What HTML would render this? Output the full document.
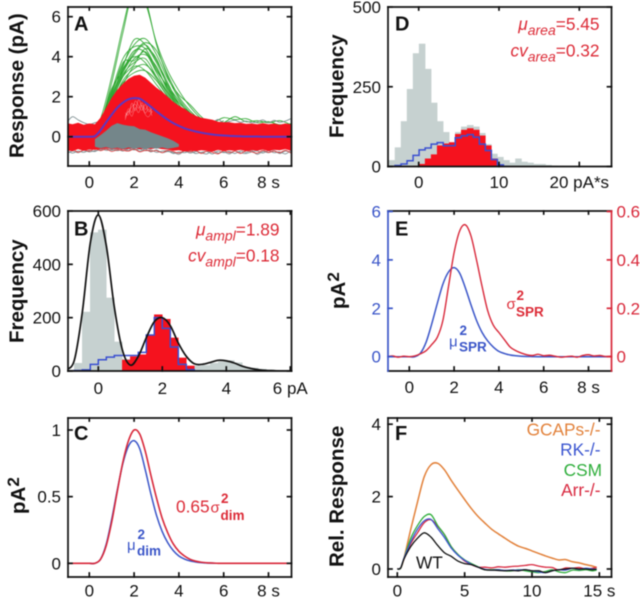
<!DOCTYPE html>
<html lang="en">
<head>
<meta charset="utf-8">
<title>Single-photon response panels</title>
<style>
html,body{margin:0;padding:0;background:#fff;width:640px;height:598px;overflow:hidden}
svg{display:block;filter:blur(0.5px);font-family:"Liberation Sans",sans-serif}
.tick{font-size:17px;fill:#111}
.title{font-size:20.5px;font-weight:bold;fill:#111}
.letter{font-size:20px;font-weight:bold;fill:#111}
.red{fill:#dc2b37}.blue{fill:#3a55c8}
.ann{font-size:17.3px}
.sub{font-size:14px;font-style:italic}
.bs{font-size:13.5px;font-weight:bold}
</style>
</head>
<body>
<svg id="figure" width="640" height="598" viewBox="0 0 640 598" xmlns="http://www.w3.org/2000/svg">
  <defs>
    <clipPath id="clipA"><rect x="68" y="7" width="223.5" height="159"/></clipPath>
    <clipPath id="clipB"><rect x="68" y="211" width="223.5" height="160"/></clipPath>
    <clipPath id="clipC"><rect x="68" y="418" width="223.5" height="159"/></clipPath>
    <clipPath id="clipD"><rect x="388" y="7" width="223.5" height="159.5"/></clipPath>
    <clipPath id="clipE"><rect x="388" y="211" width="223.5" height="160"/></clipPath>
    <clipPath id="clipF"><rect x="388" y="418" width="223.5" height="159"/></clipPath>
  </defs>
  <g id="marks"></g>
  <g id="axes"></g>

  <text class="title" transform="translate(23.5,158) rotate(-90)">Response (pA)</text>
  <text class="title" transform="translate(23.5,343) rotate(-90)">Frequency</text>
  <text class="title" transform="translate(25,514) rotate(-90)">pA<tspan font-size="17" dy="-6">2</tspan></text>
  <text class="title" transform="translate(343.5,138) rotate(-90)">Frequency</text>
  <text class="title" transform="translate(345,309) rotate(-90)">pA<tspan font-size="17" dy="-6">2</tspan></text>
  <text class="title" transform="translate(343.5,567) rotate(-90)">Rel. Response</text>

  <text class="letter" x="74" y="30.5">A</text>
  <text class="letter" x="74" y="235.5">B</text>
  <text class="letter" x="74" y="440">C</text>
  <text class="letter" x="395" y="30.5">D</text>
  <text class="letter" x="395" y="235.5">E</text>
  <text class="letter" x="395" y="440">F</text>

  <text class="ann red" x="279.5" y="235.5" text-anchor="end"><tspan font-style="italic">μ</tspan><tspan class="sub" dy="5">ampl</tspan><tspan dy="-5">=1.89</tspan></text>
  <text class="ann red" x="279.5" y="261.5" text-anchor="end"><tspan font-style="italic">cv</tspan><tspan class="sub" dy="5">ampl</tspan><tspan dy="-5">=0.18</tspan></text>
  <text class="ann red" x="599.5" y="30" text-anchor="end"><tspan font-style="italic">μ</tspan><tspan class="sub" dy="5">area</tspan><tspan dy="-5">=5.45</tspan></text>
  <text class="ann red" x="599.5" y="56.5" text-anchor="end"><tspan font-style="italic">cv</tspan><tspan class="sub" dy="5">area</tspan><tspan dy="-5">=0.32</tspan></text>

  <g class="red">
    <text class="ann" x="176" y="512.5">0.65</text>
    <text font-size="15" x="210.5" y="512.5">σ</text>
    <text class="bs" x="221" y="503">2</text>
    <text class="bs" x="220.5" y="520">dim</text>
  </g>
  <g class="blue">
    <text font-size="15" x="127" y="550">μ</text>
    <text class="bs" x="137.5" y="539">2</text>
    <text class="bs" x="137" y="555.5">dim</text>
  </g>
  <g class="red">
    <text font-size="15" x="506.5" y="309">σ</text>
    <text class="bs" x="516.5" y="300">2</text>
    <text class="bs" x="516" y="316.5">SPR</text>
  </g>
  <g class="blue">
    <text font-size="15" x="449" y="346.5">μ</text>
    <text class="bs" x="459.5" y="335">2</text>
    <text class="bs" x="459" y="351.5">SPR</text>
  </g>

  <text class="ann" fill="#e2813a" x="600.5" y="435.5" text-anchor="end">GCAPs-/-</text>
  <text class="ann" fill="#3a55d0" x="600.5" y="455.5" text-anchor="end">RK-/-</text>
  <text class="ann" fill="#2fae3c" x="602" y="476" text-anchor="end">CSM</text>
  <text class="ann" fill="#d8283f" x="600.5" y="496" text-anchor="end">Arr-/-</text>
  <text class="ann" fill="#111" x="416" y="568.5">WT</text>
</svg>

<script>
// ---------- Panel A data (time grid starts at -1 s, step 0.25 s) ----------
const aMean = [0,0,0,0,0,.03,.32,.72,1.1,1.45,1.7,1.87,1.93,1.9,1.72,1.5,1.27,1.05,.85,.68,.54,.42,.33,.26,.2,.15,.11,.08,.06,.04,.03,.02,.01,.01,.01,0,0,0,0,0,0];
const aRedUpper = [.68,.62,.7,.6,.66,.62,.95,1.45,1.95,2.35,2.65,2.9,3.05,3.1,2.95,2.7,2.45,2.25,2,1.75,1.55,1.4,1.2,1.05,.95,.9,.85,.75,.72,.72,.68,.7,.64,.66,.62,.68,.62,.66,.6,.66,.62];
const aRedLower = [-.68,-.72,-.62,-.7,-.64,-.66,-.62,-.58,-.62,-.6,-.64,-.6,-.58,-.62,-.6,-.62,-.58,-.62,-.64,-.7,-.68,-.74,-.7,-.72,-.68,-.7,-.74,-.66,-.72,-.68,-.7,-.66,-.72,-.68,-.7,-.64,-.72,-.66,-.68,-.62,-.7];
const aGrayTop = [-.9,-.9,-.9,-.9,-.9,-.12,.08,.3,.55,.68,.6,.55,.52,.38,.35,.22,.12,.02,-.08,-.2,-.38];
const aGrayBottom = [-.9,-.9,-.9,-.9,-.9,-.5,-.58,-.52,-.6,-.55,-.62,-.54,-.6,-.55,-.63,-.56,-.6,-.54,-.6,-.56,-.5];
const aGrayEdge1 = [-.85,-.72,-.8,-.68,-.76,-.7,-.66,-.6,-.68,-.62,-.72,-.6,-.66,-.62,-.7,-.66,-.78,-.72,-.7,-.84,-.76,-.8,-.72,-.84,-.78,-.74,-.86,-.72,-.8,-.74,-.84,-.72,-.78,-.7,-.88,-.74,-.8,-.7,-.84,-.72,-.78];
const aGrayEdge2 = [-.7,-.82,-.72,-.78,-.68,-.74,-.6,-.68,-.64,-.7,-.62,-.68,-.6,-.72,-.62,-.76,-.66,-.8,-.74,-.78,-.88,-.72,-.82,-.74,-.8,-.86,-.7,-.82,-.76,-.86,-.72,-.8,-.84,-.76,-.72,-.82,-.7,-.8,-.76,-.86,-.7];
const aGrayEdge3 = [.72,1,.84,.7,.62,.7,.8,1.1,1.3,1.6,1.9,2.1,2.2,2.1,2,1.9,1.7,1.5,1.3,1.1,.9,.8,.75,.82,.7,.78,.72,.86,.7,.76,.82,.72,.78,.7,.74,.84,.7,.82,.72,.78,.9];
const aRedEdge1 = [-.74,-.62,-.78,-.66,-.72,-.6,-.7,-.62,-.74,-.66,-.68,-.72,-.62,-.76,-.68,-.72,-.7,-.8,-.68,-.74,-.82,-.7,-.76,-.68,-.84,-.72,-.78,-.86,-.7,-.8,-.72,-.84,-.7,-.76,-.82,-.68,-.78,-.72,-.8,-.68,-.82];
const aPale1 = [1.05,1.25,1.5,1.62,1.42,1.7,1.35,1.55,1.2];
const aPale2 = [.95,1.4,1.22,1.78,1.55,1.32,1.62,1.25,1.42];
const aPale3 = [1.2,1.1,1.68,1.3,1.85,1.48,1.18,1.38,1.05];
const aPale4 = [.85,1.28,1.02,1.45,1.2,1.58,1.12,1,1.28];
// green traces: grid starts at 0 s, step 0.5 s
const aGreen1 = [.1,.9,3,5.5,7.5,6.9,4.6,3,1.9,1.2,.7,.55,.3];
const aGreen2 = [.05,.7,2.7,5.2,7.4,6.7,4.7,3.3,2.3,1.5,.9,.6,.4];
const aGreen3 = [.1,.7,2.2,3.6,4.6,4.9,4.1,2.9,2.1,1.6,1,.6,.8];
const aGreen4 = [.1,.6,2,3.5,4.85,4.6,3.7,2.6,1.8,1.1,.8,.7,.95,.85,.9,.7,.75,.6,.65];
const aGreen5 = [0,.7,2.3,3.9,4.5,4.4,3.4,2.4,1.5,1,.7,.5,.4];
const aGreen6 = [.1,.6,1.9,3.2,4.1,4.6,3.8,2.7,1.6,1,.9,.6,.7,1,.75,.8,.7,.8,.6];
const aGreen7 = [0,.5,1.9,3.3,4.3,4.2,3.2,2.2,1.4,.9,.6,.5,.4];
const aGreen8 = [.1,.6,1.8,3,3.9,4.1,3.5,2.3,1.5,1,.8,.6,.5];
const aGreen9 = [0,.5,1.7,3.1,3.7,3.9,3,2.2,1.4,.8,.6,.8,.5];
const aGreen10 = [.1,.5,1.6,2.8,3.4,3.6,3,2.1,1.3,.9,.6,.5,.4];
const aGreen11 = [0,.6,1.7,2.7,3.2,3.3,2.8,2,1.3,.9,.6,.5,.5];
const aGreen12 = [0,.5,1.5,2.6,3.5,3.3,2.6,1.9,1.2,.8,.7,.6,.5];
const aGreen13 = [0,.6,2,3.4,4,3.7,2.9,2,1.4,.9,.7,.6,.4];
const aGreen14 = [0,.5,1.8,3,3.6,4.4,3.9,2.5,1.6,1.1,.8,.5,.4];
const aGreen15 = [0,.7,2.4,3.3,4.2,4.7,4.3,3.1,2,1.3,.8,.6,.5];
const aGreen16 = [.1,.6,2.1,3.7,3.8,4.25,3.3,2.5,1.7,1.2,.75,.65,.35];

// ---------- Panel B data (bins of 0.25 pA, first bin edge -1 pA) ----------
const bGray = [5,30,222,520,530,275,110,45,30,25,15,10,8,10,10,8,20,22,30,35,40,32,15,12,8,5,3];
const bBlue = [0,2,4,25,42,52,58,58,58,70,135,200,160,90,25,5,0];
const bRed = [0,0,0,0,0,0,0,42,55,62,135,212,195,125,50,20];
const bFit = [5,40,220,480,585,470,240,80,22,55,125,185,200,170,105,55,27,25,32,40,38,30,18,10,5,2,1,0,0,0,0];

// ---------- Panel C data (grid -1 s upward, step 0.25 s) ----------
const cBlue = [0,0,0,0,0,0,.03,.14,.33,.55,.75,.88,.92,.86,.7,.52,.36,.24,.155,.095,.055,.032,.018,.01,.005,.002,.001,0,0,0,0,0,0,0,0,0,0,0,0,0,0];
const cRed = [0,0,0,0,0,0,.03,.13,.31,.54,.76,.92,1,.97,.84,.66,.49,.34,.23,.145,.09,.055,.03,.016,.008,.004,.002,0,0,0,0,0,0,0,0,0,0,0,0,0,0];

// ---------- Panel D data (bins of 0.75, first edge -3.7) ----------
const dGray = [20,60,142,243,355,385,306,200,142,108,76,108,125,130,125,105,70,40,30,20,12,25,15,12,8,8,5,3,2,1];
const dRed = [0,0,0,0,2,8,25,38,66,72,76,102,115,120,115,97,66,25,4];
const dBlue = [0,3,8,18,35,52,58,70,75,65,65,90,96,100,92,70,50,22,5,0];

// ---------- Panel E data (grid -1 s upward, step 0.25 s) ----------
const eBlue = [0,0,0,0,0,0,.15,.6,1.35,2.2,3,3.5,3.68,3.45,2.85,2.15,1.5,1,.65,.4,.22,.13,.07,.04,.02,.01,.005,0,0,0,0,0,0,0,0,0,0,0,0,0,0];
const eRed = [0,.003,-.002,.002,0,.003,.012,.025,.05,.08,.15,.29,.43,.52,.545,.5,.4,.29,.19,.13,.1,.07,.04,.025,.015,.008,.005,.01,.004,.006,.002,-.002,0,.002,-.002,.005,.008,.003,.005,.001,.002];

// ---------- Panel F data ----------
const fTimes = [0,.25,.5,1,1.5,2,2.5,3,3.5,4,4.5,5,5.5,6,6.5,7,7.5,8,8.5,9,9.5,10,10.5,11,11.5,12,12.5,13,13.5,14,14.5,14.8];
const fOrange = [0,.02,.3,1.1,1.85,2.55,2.88,2.92,2.74,2.45,2.18,1.92,1.67,1.45,1.27,1.1,.97,.85,.73,.63,.57,.5,.43,.36,.3,.25,.26,.2,.17,.12,.08,.04];
const fGreen = [0,.02,.3,.85,1.2,1.45,1.5,1.2,.95,.62,.4,.25,.15,.06,-.02,-.02,-.02,-.05,-.05,-.02,-.05,-.08,-.1,-.07,-.02,-.08,-.1,-.03,-.04,-.02,-.05,-.03];
const fRK = [0,.03,.3,.75,1.1,1.33,1.37,1.12,.87,.58,.38,.24,.13,.05,-.01,-.03,-.02,-.04,-.03,-.03,-.02,-.05,-.08,-.1,-.05,-.02,-.03,.02,-.01,.02,0,-.01];
const fArr = [0,.02,.28,.7,1,1.28,1.36,1.18,.95,.62,.4,.22,.12,.05,.05,.03,.06,.05,.07,.08,.1,.12,.08,.05,.04,-.03,.03,.02,.04,0,.02,.05];
const fWT = [0,.03,.28,.62,.85,1,.88,.65,.45,.35,.22,.15,.12,.05,-.02,-.03,-.04,-.05,-.04,-.05,-.02,-.05,-.05,-.1,-.05,-.02,0,.02,0,0,-.02,0];

// ---------- Tick labels ----------
const timeTicks = [0,2,4,6,8];
const timeLabels = ['0','2','4','6','8 s'];
const aYTicks = [0,2,4,6];
const aYLabels = ['0','2','4','6'];
const bXTicks = [0,2,4,6];
const bXLabels = ['0','2','4','6 pA'];
const bYTicks = [0,200,400,600];
const bYLabels = ['0','200','400','600'];
const cYTicks = [0,.5,1];
const cYLabels = ['0','0.5','1'];
const dXTicks = [0,10,20];
const dXLabels = ['0','10','20 pA*s'];
const dYTicks = [0,250,500];
const dYLabels = ['0','250','500'];
const eYTicks = [0,2,4,6];
const eYLabels = ['0','2','4','6'];
const eRightTicks = [0,.2,.4,.6];
const eRightLabels = ['0','0.2','0.4','0.6'];
const fXTicks = [0,5,10,15];
const fXLabels = ['0','5','10','15 s'];
const fYTicks = [0,2,4];
const fYLabels = ['0','2','4'];

// ---------- Scales ----------
const linear = (origin, perUnit) => v => origin + v * perUnit;
const axA = linear(89.3, 22.4), ayA = linear(136.7, -20);
const axB = linear(98.3, 32),   ayB = linear(371, -160/600);
const axC = linear(89.3, 22.4), ayC = linear(563.3, -133.3);
const axD = linear(418.7, 8.03),ayD = linear(166.5, -159.5/500);
const axE = linear(409.3, 22.4),ayE = linear(356.7, -24.2), ayE2 = linear(356.7, -242);
const axF = linear(397.3, 13.47),ayF = linear(569, -36.2);

const NS = 'http://www.w3.org/2000/svg';
const marks = document.getElementById('marks');
const axes = document.getElementById('axes');

function make(parent, tag, attrs, text) {
  const el = document.createElementNS(NS, tag);
  for (const k in attrs) el.setAttribute(k, attrs[k]);
  if (text !== undefined) el.textContent = text;
  parent.appendChild(el);
  return el;
}
function toPoints(xs, ys, sx, sy) {
  const n = Math.min(xs.length, ys.length), pts = [];
  for (let i = 0; i < n; i++) pts.push([sx(xs[i]), sy(ys[i])]);
  return pts;
}
function smoothPath(p) {
  let d = 'M' + p[0][0].toFixed(2) + ' ' + p[0][1].toFixed(2);
  for (let i = 0; i < p.length - 1; i++) {
    const a = p[Math.max(i - 1, 0)], b = p[i], c = p[i + 1], e = p[Math.min(i + 2, p.length - 1)];
    d += 'C' + (b[0] + (c[0] - a[0]) / 6).toFixed(2) + ' ' + (b[1] + (c[1] - a[1]) / 6).toFixed(2) + ' ' +
         (c[0] - (e[0] - b[0]) / 6).toFixed(2) + ' ' + (c[1] - (e[1] - b[1]) / 6).toFixed(2) + ' ' +
         c[0].toFixed(2) + ' ' + c[1].toFixed(2);
  }
  return d;
}
function grid(values, start, step) { return values.map((_, i) => start + i * step); }

function drawCurve(group, xs, ys, sx, sy, color, width, name) {
  const el = make(group, 'path', {d: smoothPath(toPoints(xs, ys, sx, sy)), fill: 'none', stroke: color, 'stroke-width': width, 'stroke-linejoin': 'round'});
  
  
  return el;
}
function drawBand(group, xs, upper, lower, sx, sy, color, name) {
  const up = toPoints(xs, upper, sx, sy), lo = toPoints(xs, lower, sx, sy).reverse();
  const d = 'M' + up.concat(lo).map(p => p[0].toFixed(2) + ' ' + p[1].toFixed(2)).join('L') + 'Z';
  const el = make(group, 'path', {d: d, fill: color});
  
  
  return el;
}
function drawBars(group, values, start, width, sx, sy, color, name) {
  values.forEach((v, i) => {
    if (v <= 0) return;
    const x0 = sx(start + i * width), x1 = sx(start + (i + 1) * width);
    const el = make(group, 'rect', {x: x0 - 0.25, y: sy(v), width: x1 - x0 + 0.5, height: sy(0) - sy(v), fill: color});
    
    
  });
}
function drawSteps(group, values, start, width, sx, sy, color, name) {
  let d = 'M' + sx(start) + ' ' + sy(0);
  values.forEach((v, i) => {
    d += 'L' + sx(start + i * width).toFixed(2) + ' ' + sy(v).toFixed(2);
    d += 'L' + sx(start + (i + 1) * width).toFixed(2) + ' ' + sy(v).toFixed(2);
  });
  const el = make(group, 'path', {d: d, fill: 'none', stroke: color, 'stroke-width': 1.5});
  
  
}
function panelGroup(clip, name) {
  const g = make(marks, 'g', {'clip-path': 'url(#' + clip + ')'});
  
  
  return g;
}
function drawFrame(box, cfg) {
  const [l, t, r, b] = box;
  const g = make(axes, 'g', {});
  
  
  const leftC = cfg.leftColor || '#111', rightC = cfg.rightColor || '#111';
  const spine = (x1, y1, x2, y2, c, n) => {
    const el = make(g, 'line', {x1, y1, x2, y2, stroke: c, 'stroke-width': 1.7, 'stroke-linecap': 'square'});
    
    
  };
  spine(l, t, r, t, '#111', 'top-spine');
  spine(l, b, r, b, '#111', 'x-axis-line');
  spine(l, t, l, b, leftC, 'y-axis-line');
  spine(r, t, r, b, rightC, 'right-axis-line');
  cfg.xTicks.forEach((v, i) => {
    const x = cfg.sx(v);
    spine(x, b, x, b - 4, '#111', 'x-tick');
    spine(x, t, x, t + 3, '#111', 'x-tick-top');
    const el = make(g, 'text', {x: x, y: cfg.xBase, 'text-anchor': 'middle', class: 'tick'}, cfg.xLabels[i]);
    
    
  });
  cfg.yTicks.forEach((v, i) => {
    const y = cfg.sy(v);
    spine(l, y, l + 4, y, leftC, 'y-tick');
    if (!cfg.rightTicks) spine(r, y, r - 4, y, '#111', 'y-tick-right');
    const el = make(g, 'text', {x: l - 7, y: y + 6, 'text-anchor': 'end', class: 'tick', style: 'fill:' + leftC}, cfg.yLabels[i]);
    
    
  });
  if (cfg.rightTicks) cfg.rightTicks.forEach((v, i) => {
    const y = cfg.sr(v);
    spine(r, y, r - 4, y, rightC, 'right-tick');
    const el = make(g, 'text', {x: r + 5, y: y + 6, class: 'tick', style: 'fill:' + rightC}, cfg.rightLabels[i]);
    
    
  });
}

// ---------- Panel A ----------
(function () {
  const g = panelGroup('clipA', 'panel-a-traces');
  const tFine = grid(aMean, -1, .25);
  const greens = [aGreen1, aGreen2, aGreen3, aGreen4, aGreen5, aGreen6, aGreen7, aGreen8, aGreen9, aGreen10, aGreen11, aGreen12, aGreen13, aGreen14, aGreen15, aGreen16];
  greens.forEach(tr => drawCurve(g, grid(tr, 0, .5), tr, axA, ayA, '#2aa52c', .8, 'large-response-trace'));
  [aGrayEdge1, aGrayEdge2, aGrayEdge3].forEach(tr => drawCurve(g, tFine, tr, axA, ayA, '#7f8f92', .9, 'null-response-trace'));
  drawCurve(g, tFine, aRedEdge1, axA, ayA, '#e23a3a', .8, 'single-response-trace');
  drawBand(g, tFine, aRedUpper, aRedLower, axA, ayA, '#f5121e', 'single-response-band');
  [aPale1, aPale2, aPale3, aPale4].forEach(tr => {
    const el = drawCurve(g, grid(tr, 1.6, .15), tr, axA, ayA, '#ffffff', .5, 'trace-gap');
    el.setAttribute('stroke-opacity', '.5');
  });
  drawBand(g, grid(aGrayTop, -1, .25).slice(5), aGrayTop.slice(5), aGrayBottom.slice(5), axA, ayA, '#74868a', 'null-response-band');
  drawCurve(g, tFine, aMean, axA, ayA, '#5b38c4', 2, 'mean-response-line');
  drawFrame([68, 7, 291.5, 166], {name: 'panel-a-axes', sx: axA, sy: ayA, xTicks: timeTicks, xLabels: timeLabels, yTicks: aYTicks, yLabels: aYLabels, xBase: 188});
})();

// ---------- Panel B ----------
(function () {
  const g = panelGroup('clipB', 'panel-b-histogram');
  drawBars(g, bGray, -1, .25, axB, ayB, '#c6d1d0', 'amplitude-bar-all');
  drawBars(g, bRed, -1, .25, axB, ayB, '#f5121e', 'amplitude-bar-single');
  drawSteps(g, bBlue, -1, .25, axB, ayB, '#3a4fd0', 'amplitude-model-steps');
  drawCurve(g, grid(bFit, -1, .25), bFit, axB, ayB, '#111', 1.7, 'amplitude-fit-curve');
  drawFrame([68, 211, 291.5, 371], {name: 'panel-b-axes', sx: axB, sy: ayB, xTicks: bXTicks, xLabels: bXLabels, yTicks: bYTicks, yLabels: bYLabels, xBase: 394});
})();

// ---------- Panel C ----------
(function () {
  const g = panelGroup('clipC', 'panel-c-curves');
  drawCurve(g, grid(cBlue, -1, .25), cBlue, axC, ayC, '#3a55c8', 1.5, 'mu-dim-curve');
  drawCurve(g, grid(cRed, -1, .25), cRed, axC, ayC, '#d8283a', 1.6, 'sigma-dim-curve');
  drawFrame([68, 418, 291.5, 577], {name: 'panel-c-axes', sx: axC, sy: ayC, xTicks: timeTicks, xLabels: timeLabels, yTicks: cYTicks, yLabels: cYLabels, xBase: 596.5});
})();

// ---------- Panel D ----------
(function () {
  const g = panelGroup('clipD', 'panel-d-histogram');
  drawBars(g, dGray, -3.7, .75, axD, ayD, '#c6d1d0', 'area-bar-all');
  drawBars(g, dRed, -3.7, .75, axD, ayD, '#f5121e', 'area-bar-single');
  drawSteps(g, dBlue, -3.7, .75, axD, ayD, '#3a4fd0', 'area-model-steps');
  drawFrame([388, 7, 611.5, 166.5], {name: 'panel-d-axes', sx: axD, sy: ayD, xTicks: dXTicks, xLabels: dXLabels, yTicks: dYTicks, yLabels: dYLabels, xBase: 188});
})();

// ---------- Panel E ----------
(function () {
  const g = panelGroup('clipE', 'panel-e-curves');
  drawCurve(g, grid(eBlue, -1, .25), eBlue, axE, ayE, '#3a55c8', 1.5, 'mu-spr-curve');
  drawCurve(g, grid(eRed, -1, .25), eRed, axE, ayE2, '#d8283a', 1.4, 'sigma-spr-curve');
  drawFrame([388, 211, 611.5, 371], {name: 'panel-e-axes', sx: axE, sy: ayE, sr: ayE2, xTicks: timeTicks, xLabels: timeLabels, yTicks: eYTicks, yLabels: eYLabels, rightTicks: eRightTicks, rightLabels: eRightLabels, leftColor: '#3a55c8', rightColor: '#d8283a', xBase: 393});
})();

// ---------- Panel F ----------
(function () {
  const g = panelGroup('clipF', 'panel-f-curves');
  drawCurve(g, fTimes, fOrange, axF, ayF, '#e2813a', 1.5, 'gcaps-curve');
  drawCurve(g, fTimes, fArr, axF, ayF, '#d8283f', 1.3, 'arr-curve');
  drawCurve(g, fTimes, fGreen, axF, ayF, '#2fae3c', 1.3, 'csm-curve');
  drawCurve(g, fTimes, fRK, axF, ayF, '#3a55d0', 1.3, 'rk-curve');
  drawCurve(g, fTimes, fWT, axF, ayF, '#111', 1.3, 'wt-curve');
  drawFrame([388, 418, 611.5, 577], {name: 'panel-f-axes', sx: axF, sy: ayF, xTicks: fXTicks, xLabels: fXLabels, yTicks: fYTicks, yLabels: fYLabels, xBase: 596.5});
})();
</script>
</body>
</html>
